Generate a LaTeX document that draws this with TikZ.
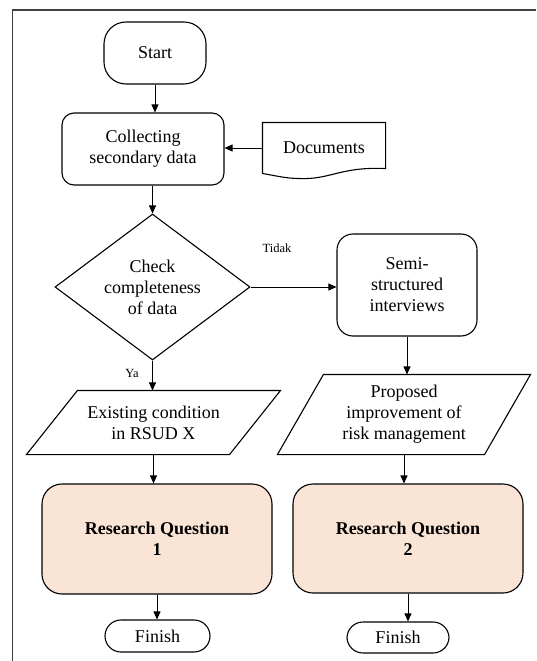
\documentclass[tikz,border=0pt]{standalone}
\usepackage{fontspec}
\setmainfont{Liberation Serif}
\usepackage{tikz}
\usetikzlibrary{positioning}
\usetikzlibrary{calc}
\usetikzlibrary{arrows.meta}
\usetikzlibrary{shapes.geometric}
\definecolor{rqfill}{RGB}{250,228,214}

\begin{document}
\begin{tikzpicture}[x=1pt, y=-1pt, line width=1.1pt,
  box/.style={draw, rectangle, align=center, inner sep=0pt, font=\fontsize{18}{21}\selectfont},
  plain/.style={rectangle, align=center, inner sep=0pt, font=\fontsize{18}{21}\selectfont},
  arr/.style={-{Triangle[length=8pt,width=7pt]}, line width=0.9pt},
  lbl/.style={font=\fontsize{12.5}{14}\selectfont, inner sep=0pt}]
\useasboundingbox (0,0) rectangle (536,661);
% -- frame --
\draw[line width=1.6pt, black!75] (536,10) -- (12.5,10) -- (12.5,661);
% -- left column --
\node[box, rounded corners=22pt, minimum width=102pt, minimum height=62pt] (start) at (155,53) {Start};
\node[box, rounded corners=12pt, minimum width=162pt, minimum height=72pt] (coll) at (143,149) {Collecting\\secondary data};
\node[box, diamond, aspect=1.34, minimum width=195pt, minimum height=146pt] (chk) at (152.5,287) {Check\\completeness\\of data};
\node[plain, minimum width=253pt, minimum height=63pt] (par1) at (153.5,422.5) {Existing condition\\in RSUD X};
\draw (par1.south west) -- ($(par1.north west)+(51,0)$) -- (par1.north east) -- ($(par1.south east)+(-51,0)$) -- cycle;
\node[box, rounded corners=20pt, fill=rqfill, minimum width=230pt, minimum height=110pt, font=\fontsize{18}{21}\selectfont\bfseries] (rq1) at (157,539) {Research Question\\1};
\node[box, rounded corners=16pt, minimum width=105pt, minimum height=32pt] (fin1) at (157.5,636) {Finish};
% -- right column --
\node[plain, minimum width=122pt, minimum height=50pt] (docs) at (324,148) {Documents};
\draw (docs.south west) -- (docs.north west) -- (docs.north east) -- ($(docs.south east)+(0,-5)$)
  .. controls ($(docs.south east)+(-45,-7)$) and ($(docs.south east)+(-55,6)$) .. ($(docs.south east)+(-85,5)$)
  .. controls ($(docs.south east)+(-100,5)$) and ($(docs.south east)+(-110,2)$) .. (docs.south west);
\node[box, rounded corners=16pt, minimum width=140pt, minimum height=102pt] (semi) at (407,285) {Semi-\\structured\\interviews};
\node[plain, minimum width=252pt, minimum height=79pt] (par2) at (404,414.5) {Proposed\\improvement of\\risk management};
\draw (par2.south west) -- ($(par2.north west)+(46,0)$) -- (par2.north east) -- ($(par2.south east)+(-46,0)$) -- cycle;
\node[box, rounded corners=20pt, fill=rqfill, minimum width=230pt, minimum height=109pt, font=\fontsize{18}{21}\selectfont\bfseries] (rq2) at (408,538.5) {Research Question\\2};
\node[box, rounded corners=16pt, minimum width=102pt, minimum height=31pt] (fin2) at (398,637.5) {Finish};
% -- labels --
\node[lbl] (tidak) at (277,248) {Tidak};
\node[lbl] (ya) at (132,373) {Ya};
% -- arrows --
\draw[arr] (start.south) -- (start.south |- coll.north);
\draw[arr] (docs.west) -- (docs.west -| coll.east);
\draw[arr] (coll.south -| chk.north) -- (chk.north);
\draw[arr] (chk.east) -- (chk.east -| semi.west);
\draw[arr] (chk.south) -- (chk.south |- par1.north);
\draw[arr] (semi.south) -- (semi.south |- par2.north);
\draw[arr] (par1.south) -- (par1.south |- rq1.north);
\draw[arr] (par2.south) -- (par2.south |- rq2.north);
\draw[arr] (rq1.south) -- (rq1.south |- fin1.north);
\draw[arr] (rq2.south) -- (rq2.south |- fin2.north);
\end{tikzpicture}
\end{document}
